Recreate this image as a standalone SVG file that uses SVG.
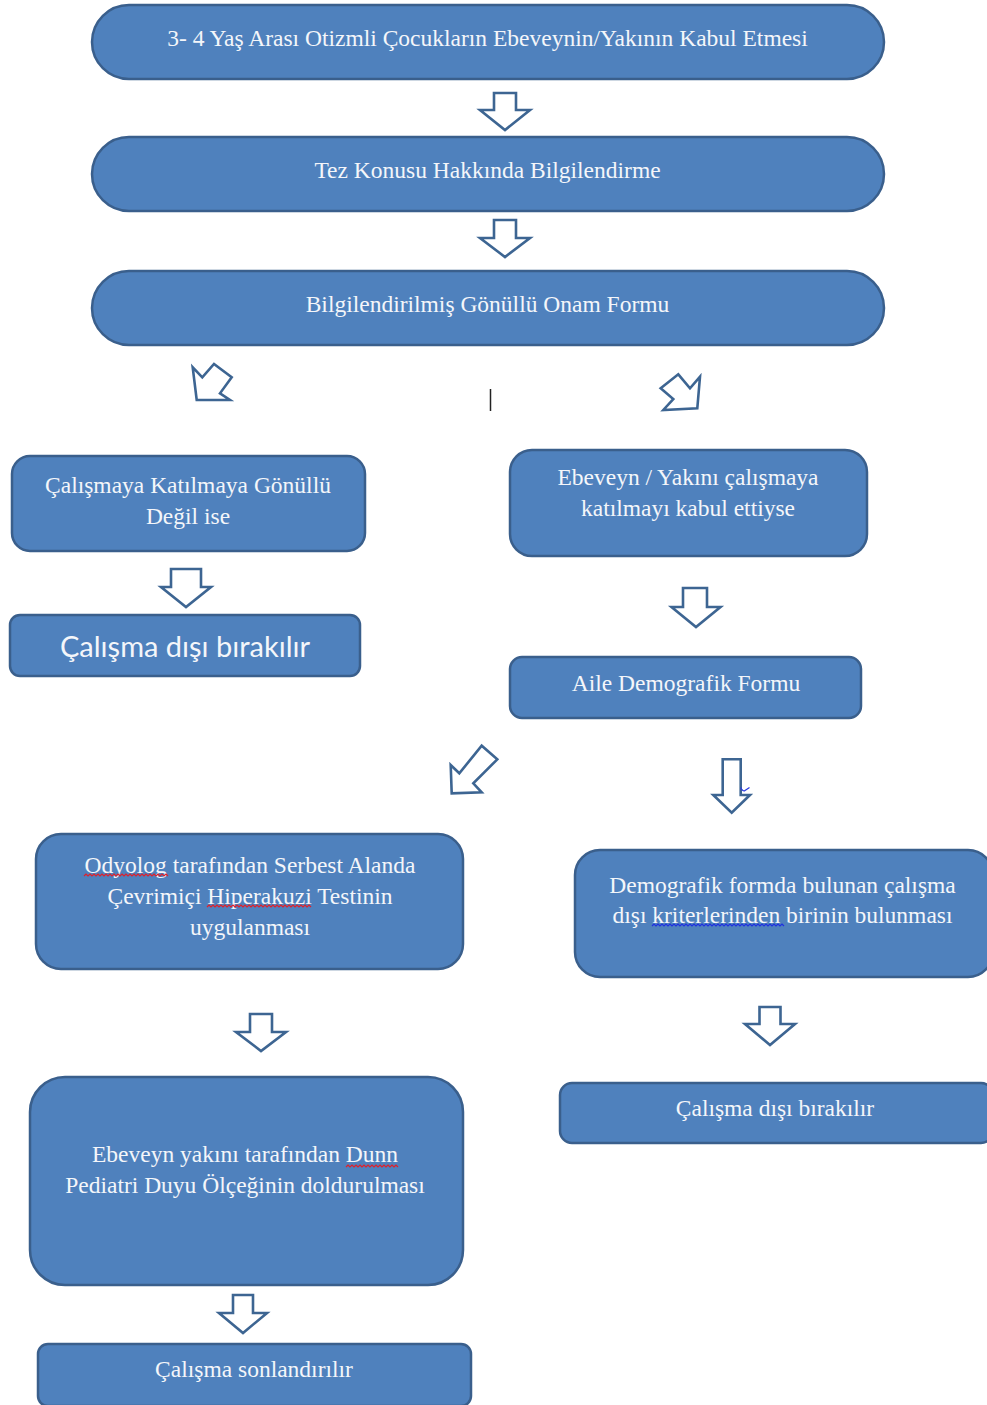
<svg xmlns="http://www.w3.org/2000/svg" width="987" height="1405" viewBox="0 0 987 1405">
<defs>
<style>
.box{fill:#4f81bd;stroke:#3a5f8c;stroke-width:2.5}
.arr{fill:#ffffff;stroke:#3d6592;stroke-width:2.6;stroke-linejoin:miter}
.t{font-family:"Liberation Serif","Times New Roman",serif;font-size:23.5px;fill:#f4f6fa;text-anchor:middle}
.ts{font-family:Lato,"Liberation Sans",sans-serif;font-size:29px;fill:#f4f6fa;text-anchor:middle}
.wr{fill:none;stroke:#e0202a;stroke-width:1.2}
.wb{fill:none;stroke:#2030e0;stroke-width:1.2}
</style>
</defs>
<rect width="987" height="1405" fill="#ffffff"/>

<g id="n1"><rect class="box" x="92" y="5" width="792" height="74" rx="37"/><text class="t" x="487.5" y="46">3- 4 Yaş Arası Otizmli Çocukların Ebeveynin/Yakının Kabul Etmesi</text></g>
<g id="n2"><rect class="box" x="92" y="137" width="792" height="74" rx="37"/><text class="t" x="487.5" y="178">Tez Konusu Hakkında Bilgilendirme</text></g>
<g id="n3"><rect class="box" x="92" y="271" width="792" height="74" rx="37"/><text class="t" x="487.5" y="312">Bilgilendirilmiş Gönüllü Onam Formu</text></g>

<g id="nA"><rect class="box" x="12" y="456" width="353" height="95" rx="18"/><text class="t" x="188" y="493">Çalışmaya Katılmaya Gönüllü</text><text class="t" x="188" y="524">Değil ise</text></g>
<g id="nB"><rect class="box" x="10" y="615" width="350" height="61" rx="10"/><text class="ts" x="185" y="657">Çalışma dışı bırakılır</text></g>
<g id="nC"><rect class="box" x="510" y="450" width="357" height="106" rx="22"/><text class="t" x="688" y="485">Ebeveyn / Yakını çalışmaya</text><text class="t" x="688" y="516">katılmayı kabul ettiyse</text></g>
<g id="nD"><rect class="box" x="510" y="657" width="351" height="61" rx="12"/><text class="t" x="686" y="691">Aile Demografik Formu</text></g>
<g id="nE"><rect class="box" x="36" y="834" width="427" height="135" rx="25"/><text class="t" x="250" y="873">Odyolog tarafından Serbest Alanda</text><text class="t" x="250" y="904">Çevrimiçi Hiperakuzi Testinin</text><text class="t" x="250" y="935">uygulanması</text>
<path class="wr" d="M84,876 l2,-2 l2,2 l2,-2 l2,2 l2,-2 l2,2 l2,-2 l2,2 l2,-2 l2,2 l2,-2 l2,2 l2,-2 l2,2 l2,-2 l2,2 l2,-2 l2,2 l2,-2 l2,2 l2,-2 l2,2 l2,-2 l2,2 l2,-2 l2,2 l2,-2 l2,2 l2,-2 l2,2 l2,-2 l2,2 l2,-2 l2,2 l2,-2 l2,2 l2,-2 l2,2 l2,-2 l2,2 l2,-2 l2,2"/>
<path class="wr" d="M207,907 l2,-2 l2,2 l2,-2 l2,2 l2,-2 l2,2 l2,-2 l2,2 l2,-2 l2,2 l2,-2 l2,2 l2,-2 l2,2 l2,-2 l2,2 l2,-2 l2,2 l2,-2 l2,2 l2,-2 l2,2 l2,-2 l2,2 l2,-2 l2,2 l2,-2 l2,2 l2,-2 l2,2 l2,-2 l2,2 l2,-2 l2,2 l2,-2 l2,2 l2,-2 l2,2 l2,-2 l2,2 l2,-2 l2,2 l2,-2 l2,2 l2,-2 l2,2 l2,-2 l2,2 l2,-2 l2,2 l2,-2 l2,2"/>
</g>
<g id="nF"><rect class="box" x="575" y="850" width="418" height="127" rx="25"/><text class="t" x="782.5" y="893">Demografik formda bulunan çalışma</text><text class="t" x="782.5" y="923">dışı kriterlerinden birinin bulunması</text>
<path class="wb" d="M652,926 l2,-2 l2,2 l2,-2 l2,2 l2,-2 l2,2 l2,-2 l2,2 l2,-2 l2,2 l2,-2 l2,2 l2,-2 l2,2 l2,-2 l2,2 l2,-2 l2,2 l2,-2 l2,2 l2,-2 l2,2 l2,-2 l2,2 l2,-2 l2,2 l2,-2 l2,2 l2,-2 l2,2 l2,-2 l2,2 l2,-2 l2,2 l2,-2 l2,2 l2,-2 l2,2 l2,-2 l2,2 l2,-2 l2,2 l2,-2 l2,2 l2,-2 l2,2 l2,-2 l2,2 l2,-2 l2,2 l2,-2 l2,2 l2,-2 l2,2 l2,-2 l2,2 l2,-2 l2,2 l2,-2 l2,2 l2,-2 l2,2 l2,-2 l2,2 l2,-2 l2,2"/>
</g>
<g id="nG"><rect class="box" x="560" y="1083" width="433" height="60" rx="12"/><text class="t" x="775" y="1116">Çalışma dışı bırakılır</text></g>
<g id="nH"><rect class="box" x="30" y="1077" width="433" height="208" rx="35"/><text class="t" x="245" y="1162">Ebeveyn yakını tarafından Dunn</text><text class="t" x="245" y="1193">Pediatri Duyu Ölçeğinin doldurulması</text>
<path class="wr" d="M346,1167 l2,-2 l2,2 l2,-2 l2,2 l2,-2 l2,2 l2,-2 l2,2 l2,-2 l2,2 l2,-2 l2,2 l2,-2 l2,2 l2,-2 l2,2 l2,-2 l2,2 l2,-2 l2,2 l2,-2 l2,2 l2,-2 l2,2 l2,-2 l2,2"/>
</g>
<g id="nI"><rect class="box" x="38" y="1344" width="433" height="62" rx="10"/><text class="t" x="254" y="1377">Çalışma sonlandırılır</text></g>

<g id="connectors">
<polygon class="arr" points="494,93 516,93 516,110 530,110 505,130 480,110 494,110"/>
<polygon class="arr" points="494,220 516,220 516,238 530,238 505,257 480,238 494,238"/>
<polygon class="arr" points="192.7,367.3 196.7,400 230,400 220,393.3 231.7,377.3 214,364 202.3,377.3"/>
<polygon class="arr" points="660.7,388.3 678.3,374.3 690,388.3 700,376.7 697.3,408.3 663.3,410 673.3,399"/>
<polygon class="arr" points="171,569 201,569 201,587 211,587 186,607 161,587 171,587"/>
<polygon class="arr" points="683,588 707,588 707,607 720.5,607 696,627 671.5,607 683,607"/>
<polygon class="arr" points="451.7,793.3 450.7,765 459.3,773.3 481.7,745.7 497.3,759.3 473.3,783.3 481.7,792.3"/>
<polygon class="arr" points="722.7,759.3 740.7,759.3 740.7,795 750,795 731.7,812.7 713.3,795 722.7,795"/>
<polygon class="arr" points="250,1014 272,1014 272,1032 286,1032 261,1051 236,1032 250,1032"/>
<polygon class="arr" points="759.5,1007 780.5,1007 780.5,1024 795,1024 770,1045 745,1024 759.5,1024"/>
<polygon class="arr" points="233,1295 253,1295 253,1313 267,1313 243,1333 219,1313 233,1313"/>
</g>
<path d="M740.5,787.5 Q743,792 745,790.5 L749.5,787.5" fill="none" stroke="#2a3ae0" stroke-width="1.3"/>
<line x1="490.5" y1="389" x2="490.5" y2="411" stroke="#222222" stroke-width="1.5"/>
</svg>
